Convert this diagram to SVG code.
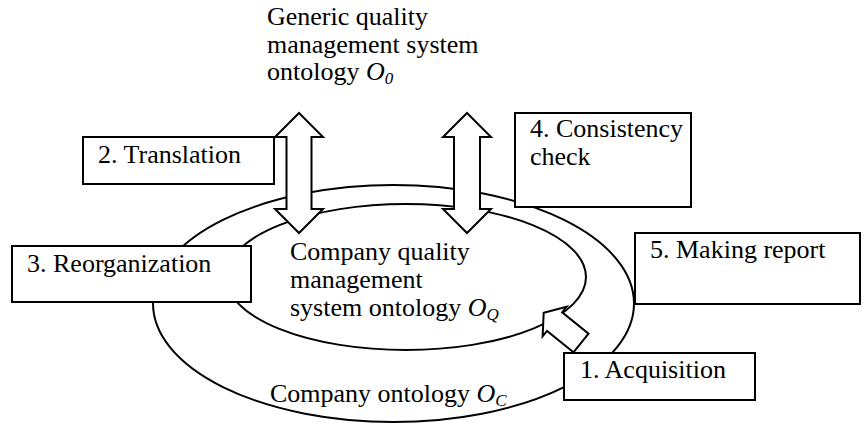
<svg xmlns="http://www.w3.org/2000/svg" width="866" height="425" viewBox="0 0 866 425">
<style>
.t{font-family:"Liberation Serif","Times New Roman",serif;font-size:26px;fill:#000}
.i{font-style:italic}
.s{font-style:italic;font-size:17px}
.ln{fill:none;stroke:#000;stroke-width:2}
.bx{fill:#fff;stroke:#000;stroke-width:2}
.ar{fill:#fff;stroke:#000;stroke-width:2;stroke-linejoin:miter}
</style>
<rect width="866" height="425" fill="#fff"/>
<g id="ontologies">
<ellipse id="outer" class="ln" cx="393.5" cy="303.5" rx="240.5" ry="118.5"/>
<ellipse id="inner" class="ln" cx="406" cy="277" rx="180" ry="73"/>
</g>
<g id="title">
<text class="t" x="267" y="25">Generic quality</text>
<text class="t" x="267" y="53">management system</text>
<text class="t" x="267" y="80">ontology <tspan class="i">O</tspan><tspan class="s" dy="4">0</tspan></text>
</g>
<g id="company-qms">
<text class="t" x="290" y="260">Company quality</text>
<text class="t" x="290" y="288">management</text>
<text class="t" x="290" y="316">system ontology <tspan class="i">O</tspan><tspan class="s" dy="4">Q</tspan></text>
</g>
<g id="company-ont">
<text class="t" x="270" y="402">Company ontology <tspan class="i">O</tspan><tspan class="s" dy="4">C</tspan></text>
</g>
<g id="n2">
<rect class="bx" x="83" y="137" width="191" height="47"/>
<text class="t" x="98" y="163">2. Translation</text>
</g>
<g id="n4">
<rect class="bx" x="515" y="113" width="176" height="94"/>
<text class="t" x="530" y="137">4. Consistency</text>
<text class="t" x="530" y="165">check</text>
</g>
<g id="n3">
<rect class="bx" x="12" y="246" width="239" height="56"/>
<text class="t" x="27" y="272">3. Reorganization</text>
</g>
<g id="n5">
<rect class="bx" x="635" y="233" width="225" height="71"/>
<text class="t" x="650" y="258">5. Making report</text>
</g>
<g id="n1">
<rect class="bx" x="564" y="353" width="191" height="47"/>
<text class="t" x="580" y="378">1. Acquisition</text>
</g>
<g id="connectors">
<polygon class="ar" points="299,113 323,137 311.5,137 311.5,209 323,209 299,233 275,209 286.5,209 286.5,137 275,137"/>
<polygon class="ar" points="467,113 491,137 480,137 480,209 491,209 467,233 443,209 454,209 454,137 443,137"/>
<polygon class="ar" transform="translate(581,343) rotate(-141)" points="0,-12 34,-12 34,-19 48,0 34,19 34,12 0,12"/>
</g>
</svg>
